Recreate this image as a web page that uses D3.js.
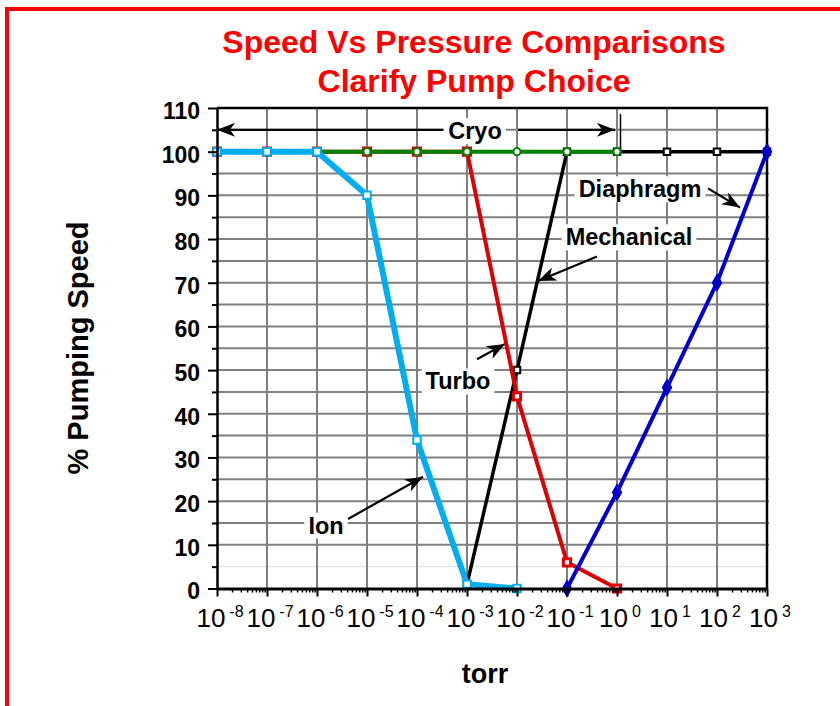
<!DOCTYPE html>
<html>
<head>
<meta charset="utf-8">
<script src="https://cdn.jsdelivr.net/npm/d3@7"></script>
<style>
body { margin: 0; background: #fff; }
text { font-family: "Liberation Sans", Arial, Helvetica, sans-serif; }
</style>
</head>
<body>
<script>
// canvas and plot box
var w = 840;
var h = 706;
var plotLeft = 217;
var plotRight = 767;
var plotTop = 108;
var plotBottom = 588.5;

// data: pressure (torr) and % pumping speed
var decades = [-8, -7, -6, -5, -4, -3, -2, -1, 0, 1, 2, 3];
var speedTicks = [0, 10, 20, 30, 40, 50, 60, 70, 80, 90, 100, 110];

var ionTorr = [1e-8, 1e-7, 1e-6, 1e-5, 1e-4, 1e-3, 1e-2];
var ionSpeed = [100, 100, 100, 90, 34, 1, 0];

var turboTorr = [1e-8, 1e-7, 1e-6, 1e-5, 1e-4, 1e-3, 1e-2, 1e-1, 1e0];
var turboSpeed = [100, 100, 100, 100, 100, 100, 44, 6, 0];

var cryoTorr = [1e-8, 1e-7, 1e-6, 1e-5, 1e-4, 1e-3, 1e-2, 1e-1, 1e0];
var cryoSpeed = [100, 100, 100, 100, 100, 100, 100, 100, 100];

var mechTorr = [1e-3, 1e-2, 1e-1, 1e0, 1e1, 1e2, 1e3];
var mechSpeed = [1, 50, 100, 100, 100, 100, 100];

var diaTorr = [1e-1, 1e0, 1e1, 1e2, 1e3];
var diaSpeed = [0, 22, 46, 70, 100];

// scales
var x = d3.scaleLog().domain([1e-8, 1e3]).range([plotLeft, plotRight]);
var y = d3.scaleLinear().domain([0, 110]).range([plotBottom, plotTop]);

var svg = d3.select("body").append("svg")
    .attr("width", w)
    .attr("height", h);

// red frame
svg.append("rect")
    .attr("x", 7).attr("y", 9)
    .attr("width", 900).attr("height", 900)
    .attr("fill", "none")
    .attr("stroke", "#ff0000")
    .attr("stroke-width", 4);

// title
var title = svg.append("text")
    .attr("text-anchor", "middle")
    .attr("fill", "#ff0000")
    .attr("font-weight", "bold")
    .attr("font-size", 32);
title.append("tspan").attr("x", 474).attr("y", 53).text("Speed Vs Pressure Comparisons");
title.append("tspan").attr("x", 474).attr("y", 92).text("Clarify Pump Choice");

// arrow head
svg.append("defs").append("marker")
    .attr("id", "head")
    .attr("viewBox", "0 0 18 14")
    .attr("refX", 18).attr("refY", 7)
    .attr("markerWidth", 18).attr("markerHeight", 14)
    .attr("markerUnits", "userSpaceOnUse")
    .attr("orient", "auto")
  .append("path")
    .attr("d", "M0,0 L18,7 L0,14 L5,7 Z")
    .attr("fill", "#000");

// grid: every 5 % and every decade
var gridVals = d3.range(5, 110, 5);
svg.append("g").selectAll("line")
    .data(gridVals)
    .enter().append("line")
    .attr("x1", plotLeft).attr("x2", plotRight + 2)
    .attr("y1", function(d) { return y(d); })
    .attr("y2", function(d) { return y(d); })
    .attr("stroke", function(d) { return d == 5 ? "#dddddd" : "#808080"; })
    .attr("stroke-width", function(d) { return d == 5 ? 1 : 2; });

svg.append("g").selectAll("line")
    .data(decades.slice(1, -1))
    .enter().append("line")
    .attr("x1", function(d) { return x(Math.pow(10, d)); })
    .attr("x2", function(d) { return x(Math.pow(10, d)); })
    .attr("y1", plotTop).attr("y2", plotBottom)
    .attr("stroke", "#808080")
    .attr("stroke-width", 2);

// plot frame (top and right)
svg.append("path")
    .attr("d", "M" + plotLeft + "," + plotTop + "H" + plotRight + "V" + plotBottom)
    .attr("fill", "none")
    .attr("stroke", "#000")
    .attr("stroke-width", 2.5);

// annotations (placed in data space: [log10 torr, % speed])
function px(e) { return x(Math.pow(10, e)); }

var labels = [
  { text: "Cryo", at: [-2.84, 104.8] },
  { text: "Diaphragm", at: [0.46, 91.5] },
  { text: "Mechanical", at: [0.24, 80.5] },
  { text: "Turbo", at: [-3.18, 47.5] },
  { text: "Ion", at: [-5.82, 14.5] }
];
var arrows = [
  { from: [-3.48, 105], to: [-8, 105] },
  { from: [-1.98, 105], to: [-0.04, 105] },
  { from: [1.82, 91.6], to: [2.46, 87.2] },
  { from: [-0.4, 76], to: [-1.58, 70.4] },
  { from: [-2.8, 52.5], to: [-2.24, 56] },
  { from: [-5.38, 15.9], to: [-3.88, 25.6] }
];

var lab = svg.append("g").selectAll("g")
    .data(labels)
    .enter().append("g")
    .attr("transform", function(d) { return "translate(" + px(d.at[0]) + "," + y(d.at[1]) + ")"; });
lab.append("text")
    .attr("text-anchor", "middle")
    .attr("dy", "0.36em")
    .attr("font-weight", "bold")
    .attr("font-size", 23.5)
    .text(function(d) { return d.text; });
lab.insert("rect", "text")
    .each(function() {
        var b = this.parentNode.querySelector("text").getBBox();
        d3.select(this)
            .attr("x", b.x - 4).attr("y", b.y)
            .attr("width", b.width + 8).attr("height", b.height)
            .attr("fill", "#fff");
    });

svg.append("g").selectAll("line")
    .data(arrows)
    .enter().append("line")
    .attr("x1", function(d) { return px(d.from[0]); })
    .attr("y1", function(d) { return y(d.from[1]); })
    .attr("x2", function(d) { return px(d.to[0]); })
    .attr("y2", function(d) { return y(d.to[1]); })
    .attr("stroke", "#000")
    .attr("stroke-width", 2.2)
    .attr("marker-end", "url(#head)");

// end of cryo range
svg.append("line")
    .attr("x1", px(0.07)).attr("x2", px(0.07))
    .attr("y1", y(108.6)).attr("y2", y(100))
    .attr("stroke", "#000")
    .attr("stroke-width", 1.5);

// series
var series = [
  { torr: mechTorr, speed: mechSpeed, color: "#000000", width: 3.5, shape: d3.symbolSquare, size: 42, fill: "#fff", sw: 2 },
  { torr: turboTorr, speed: turboSpeed, color: "#dd0000", width: 4, shape: d3.symbolSquare, size: 52, fill: "#fff", sw: 3 },
  { torr: cryoTorr, speed: cryoSpeed, color: "#008000", width: 4, shape: d3.symbolCircle, size: 40, fill: "#fff", sw: 2 },
  { torr: diaTorr, speed: diaSpeed, color: "#0000cc", width: 4, shape: d3.symbolDiamond, size: 60, fill: "#0000cc", sw: 2 },
  { torr: ionTorr, speed: ionSpeed, color: "#00aeef", width: 6, shape: d3.symbolSquare, size: 56, fill: "#fff", sw: 2 }
];

var line = d3.line()
    .x(function(d) { return x(d[0]); })
    .y(function(d) { return y(d[1]); });

series.forEach(function(s) {
    var pts = d3.zip(s.torr, s.speed);
    var g = svg.append("g");
    g.append("path")
        .datum(pts)
        .attr("d", line)
        .attr("fill", "none")
        .attr("stroke", s.color)
        .attr("stroke-width", s.width)
        .attr("stroke-linejoin", "round");
    g.selectAll("path.pt")
        .data(pts)
        .enter().append("path")
        .attr("class", "pt")
        .attr("d", d3.symbol().type(s.shape).size(s.size))
        .attr("transform", function(d) { return "translate(" + x(d[0]) + "," + y(d[1]) + ")"; })
        .attr("fill", s.fill)
        .attr("stroke", s.color)
        .attr("stroke-width", s.sw);
});

// y axis
var yAxis = svg.append("g")
    .attr("transform", "translate(" + plotLeft + ",0)")
    .call(d3.axisLeft(y).tickValues(speedTicks).tickSize(9).tickPadding(8).tickSizeOuter(0));
yAxis.select(".domain").attr("stroke-width", 2.5);
yAxis.selectAll(".tick line").attr("stroke-width", 2);
yAxis.selectAll("text")
    .attr("font-family", "Liberation Sans, Arial, sans-serif")
    .attr("font-size", 23)
    .attr("font-weight", "bold")
    .attr("fill", "#000")
    .attr("dy", "0.45em");

svg.append("g")
    .attr("transform", "translate(" + plotLeft + ",0)")
    .call(d3.axisLeft(y).tickValues(d3.range(5, 110, 10)).tickSize(5).tickFormat(""))
    .call(function(g) { g.select(".domain").remove(); g.selectAll(".tick line").attr("stroke-width", 2); });

// x axis: decades plus log minor ticks
var minorTorr = [];
decades.slice(0, -1).forEach(function(e) {
    for (var k = 2; k <= 9; k++) minorTorr.push(k * Math.pow(10, e));
});

var xAxis = svg.append("g")
    .attr("transform", "translate(0," + plotBottom + ")")
    .call(d3.axisBottom(x).tickValues(decades.map(function(e) { return Math.pow(10, e); }))
        .tickSize(8).tickSizeOuter(0).tickFormat(""));
xAxis.select(".domain").attr("stroke-width", 3);
xAxis.selectAll(".tick line").attr("stroke-width", 2);

svg.append("g")
    .attr("transform", "translate(0," + plotBottom + ")")
    .call(d3.axisBottom(x).tickValues(minorTorr).tickSize(4).tickFormat(""))
    .call(function(g) { g.select(".domain").remove(); g.selectAll(".tick line").attr("stroke-width", 1.5); });

var xl = svg.append("g").selectAll("text")
    .data(decades)
    .enter().append("text")
    .attr("x", function(d) { return px(d) + 3; })
    .attr("y", 627)
    .attr("text-anchor", "middle")
    .attr("font-size", 26);
xl.append("tspan").text("10");
xl.append("tspan")
    .attr("dx", 4).attr("dy", -10)
    .attr("font-size", 16)
    .text(function(d) { return d; });

// axis titles
svg.append("text")
    .attr("x", 485).attr("y", 683)
    .attr("text-anchor", "middle")
    .attr("font-weight", "bold")
    .attr("font-size", 27)
    .text("torr");

svg.append("text")
    .attr("transform", "translate(88,348) rotate(-90)")
    .attr("text-anchor", "middle")
    .attr("font-weight", "bold")
    .attr("font-size", 29)
    .text("% Pumping Speed");
</script>
</body>
</html>
